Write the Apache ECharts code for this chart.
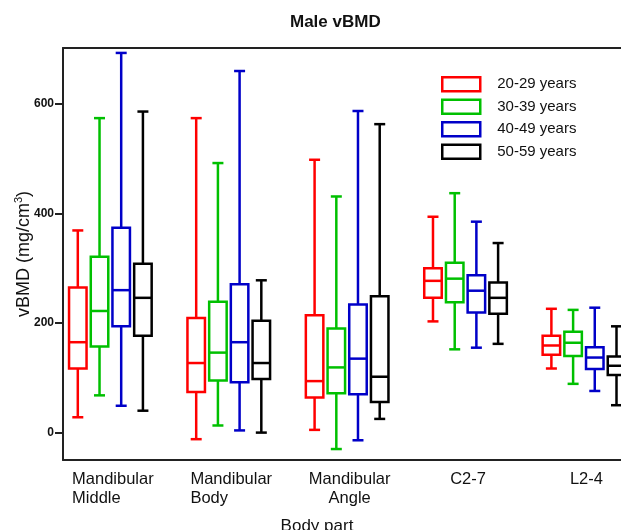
<!DOCTYPE html>
<html lang="en">
  <head>
    <meta charset="UTF-8" />
    <title>Male vBMD</title>
    <script src="https://cdn.jsdelivr.net/npm/echarts@6/dist/echarts.min.js"></script>
    <style>
      html, body { margin: 0; padding: 0; background: #fff; }
      #main { width: 621px; height: 530px; }
    </style>
  </head>
  <body>
    <div id="main"></div>
    <script>
      // body parts on the x axis (rich text keys: l = left aligned lines, c = centered)
      const bodyParts = [
        "{l|Mandibular}\n{l|Middle}",
        "{l|Mandibular}\n{l|Body}",
        "{c|Mandibular}\n{c|Angle}",
        "{c|C2-7}",
        "{c|L2-4}",
      ];
      const ageGroups = ["20-29 years", "30-39 years", "40-49 years", "50-59 years"];
      const ageColors = ["#ff0000", "#00c000", "#0000c8", "#000000"];

      // [min, Q1, median, Q3, max] per body part
      const age20s = [
        [28, 117, 165, 265, 369],
        [-12, 74, 127, 209, 574],
        [5, 64, 94, 214, 498],
        [203, 246, 277, 300, 394],
        [117, 142, 159, 177, 226],
      ];
      const age30s = [
        [68, 157, 222, 321, 574],
        [13, 95, 146, 239, 492],
        [-30, 72, 119, 190, 431],
        [152, 238, 281, 310, 437],
        [89, 140, 164, 184, 224],
      ];
      const age40s = [
        [49, 194, 260, 374, 693],
        [4, 92, 165, 271, 660],
        [-14, 70, 135, 234, 587],
        [155, 219, 259, 287, 385],
        [76, 116, 137, 156, 228],
      ];
      const age50s = [
        [40, 177, 246, 308, 586],
        [0, 98, 127, 204, 278],
        [25, 56, 102, 249, 563],
        [162, 217, 246, 274, 346],
        [50, 105, 122, 139, 194],
      ];
      const allAges = [age20s, age30s, age40s, age50s];

      const yTicks = [0, 200, 400, 600];
      const xTicks = [1, 2, 3, 4, 5];

      // offset of each age box from the group centre, in x units
      const boxOffsets = [-0.275, -0.0915, 0.0915, 0.275];
      const BOX_W = 17.5;
      const CAP_W = 11;
      const LINE_W = 2.5;

      function renderBox(params, api) {
        const xv = api.value(0) + boxOffsets[params.seriesIndex];
        const cx = api.coord([xv, 0])[0];
        const yMin = api.coord([xv, api.value(1)])[1];
        const yQ1 = api.coord([xv, api.value(2)])[1];
        const yMed = api.coord([xv, api.value(3)])[1];
        const yQ3 = api.coord([xv, api.value(4)])[1];
        const yMax = api.coord([xv, api.value(5)])[1];
        const style = {
          stroke: ageColors[params.seriesIndex],
          lineWidth: LINE_W,
          fill: "none",
        };
        const h = BOX_W / 2;
        const c = CAP_W / 2;
        return {
          type: "group",
          children: [
            { type: "line", shape: { x1: cx, y1: yMax, x2: cx, y2: yQ3 }, style },
            { type: "line", shape: { x1: cx, y1: yQ1, x2: cx, y2: yMin }, style },
            { type: "line", shape: { x1: cx - c, y1: yMax, x2: cx + c, y2: yMax }, style },
            { type: "line", shape: { x1: cx - c, y1: yMin, x2: cx + c, y2: yMin }, style },
            { type: "rect", shape: { x: cx - h, y: yQ3, width: BOX_W, height: yQ1 - yQ3 }, style },
            { type: "line", shape: { x1: cx - h, y1: yMed, x2: cx + h, y2: yMed }, style },
          ],
        };
      }

      const chart = echarts.init(document.getElementById("main"));
      const font = "Liberation Sans, Arial, sans-serif";

      const option = {
        animation: false,
        textStyle: { fontFamily: font },
        title: [
          {
            text: "Male vBMD",
            left: 285,
            top: 9,
            textStyle: { fontFamily: font, fontSize: 17, fontWeight: "bold", color: "#111" },
          },
          {
            text: "Body part",
            left: 312,
            top: 513,
            textAlign: "center",
            textStyle: { fontFamily: font, fontSize: 17, fontWeight: "normal", color: "#111" },
          },
        ],
        legend: {
          orient: "vertical",
          left: 436,
          top: 71,
          itemWidth: 38,
          itemHeight: 14,
          itemGap: 6,
          icon: "rect",
          textStyle: {
            fontFamily: font,
            fontSize: 15,
            color: "#111",
            padding: [0, 0, 0, 12],
          },
          data: ageGroups.map((name, i) => ({
            name,
            itemStyle: { color: "#fff", borderColor: ageColors[i], borderWidth: 2.5 },
          })),
        },
        grid: {
          left: 63,
          top: 48,
          right: 0,
          bottom: 70,
          containLabel: false,
          outerBoundsMode: "none",
        },
        xAxis: [
          {
            type: "value",
            min: 0.6,
            max: 5.313,
            splitLine: { show: false },
            axisTick: { show: false },
            axisLine: { show: true, onZero: false, lineStyle: { color: "#222", width: 2 } },
            axisLabel: {
              customValues: xTicks,
              margin: 10,
              padding: [0, 0, 0, 5],
              formatter: (v) => bodyParts[Math.round(v) - 1],
              rich: {
                l: { fontFamily: font, fontSize: 16.5, lineHeight: 19, color: "#111", align: "left" },
                c: { fontFamily: font, fontSize: 16.5, lineHeight: 19, color: "#111", align: "center" },
              },
            },
          },
          {
            // top frame line
            type: "value",
            position: "top",
            min: 0.6,
            max: 5.313,
            splitLine: { show: false },
            axisTick: { show: false },
            axisLabel: { show: false },
            axisLine: { show: true, onZero: false, lineStyle: { color: "#222", width: 2 } },
          },
        ],
        yAxis: {
          type: "value",
          min: -50,
          max: 702,
          splitLine: { show: false },
          name: "vBMD (mg/cm{sup|3})",
          nameLocation: "middle",
          nameGap: 28,
          nameMoveOverlap: false,
          nameTextStyle: {
            fontFamily: font,
            fontSize: 18,
            color: "#111",
            rich: {
              sup: { fontFamily: font, fontSize: 11, color: "#111", verticalAlign: "top", lineHeight: 22 },
            },
          },
          axisLine: { show: true, onZero: false, lineStyle: { color: "#222", width: 2 } },
          axisTick: {
            show: true,
            customValues: yTicks,
            length: 8,
            lineStyle: { color: "#222", width: 2 },
          },
          axisLabel: {
            customValues: yTicks,
            margin: 9,
            fontFamily: font,
            fontSize: 12,
            fontWeight: "bold",
            color: "#111",
          },
        },
        series: allAges.map((ages, i) => ({
          name: ageGroups[i],
          type: "custom",
          renderItem: renderBox,
          itemStyle: { color: ageColors[i] },
          encode: { x: 0, y: [1, 2, 3, 4, 5] },
          data: ages.map((d, j) => [j + 1].concat(d)),
        })),
      };

      chart.setOption(option);
    </script>
  </body>
</html>
